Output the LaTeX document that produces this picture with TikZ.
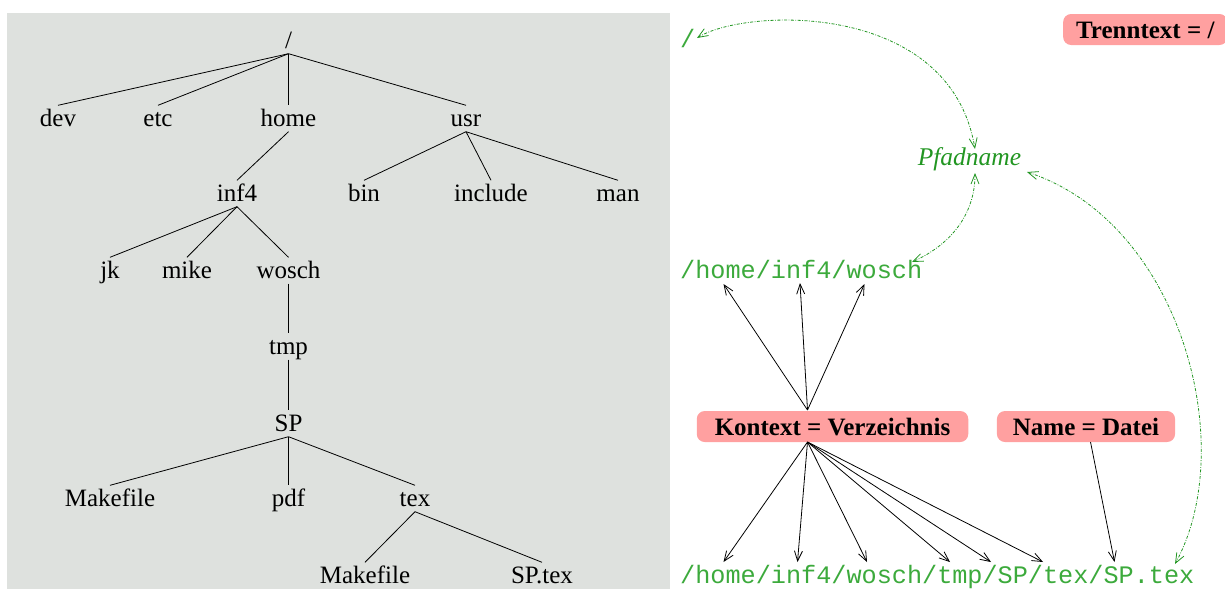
\documentclass[tikz,border=0pt]{standalone}
\usepackage{fontspec}
\setmainfont{Liberation Serif}
\setmonofont{Liberation Mono}
\usetikzlibrary{arrows.meta,calc}
\definecolor{bggray}{RGB}{222,225,222}
\definecolor{boxpink}{RGB}{255,160,160}
\definecolor{pathgreen}{RGB}{34,150,34}
\definecolor{monogreen}{RGB}{60,170,60}
\begin{document}
\begin{tikzpicture}[x=1pt,y=-1pt,
  tn/.style={anchor=base, font=\fontsize{25}{30}\selectfont, text height=17.5pt, text depth=2.5pt, inner sep=3pt},
  tedge/.style={draw=black, line width=0.8pt},
  pbox/.style={anchor=base, fill=boxpink, rounded corners=8pt, font=\fontsize{25}{30}\selectfont\bfseries, text height=17pt, text depth=0pt, inner ysep=7pt},
  mono/.style={anchor=base west, inner sep=0pt, text=monogreen, font=\fontsize{25.2}{30}\selectfont\ttfamily},
  karrow/.style={draw=black, line width=0.8pt, -{Straight Barb[length=10pt,width=8pt]}},
  garrow/.style={draw=pathgreen, line width=0.8pt, dash pattern=on 3pt off 1.5pt on 0.8pt off 1.5pt,
     {Straight Barb[length=10pt,width=8pt]}-{Straight Barb[length=10pt,width=8pt]}}
]
\useasboundingbox (0,0) rectangle (1225,590);
\fill[bggray] (7,13) rectangle (670,589);

% tree
\node[tn] (root) at (288.5,48) {/};
\node[tn] (dev) at (58,126) {dev};
\node[tn] (etc) at (158,126) {etc};
\node[tn] (home) at (288.5,126) {home};
\node[tn] (usr) at (466,126) {usr};
\node[tn] (inf4) at (237,201) {inf4};
\node[tn] (bin) at (364,201) {bin};
\node[tn] (include) at (491,201) {include};
\node[tn] (man) at (618,201) {man};
\node[tn] (jk) at (110,278) {jk};
\node[tn] (mike) at (187,278) {mike};
\node[tn] (wosch) at (288.5,278) {wosch};
\node[tn] (tmp) at (288.5,354) {tmp};
\node[tn] (SP) at (288.5,431) {SP};
\node[tn] (make1) at (110,506) {Makefile};
\node[tn] (pdf) at (288.5,506) {pdf};
\node[tn] (tex) at (415,506) {tex};
\node[tn] (make2) at (365,583) {Makefile};
\node[tn] (sptex) at (542,583) {SP.tex};

\foreach \p/\c in {root/dev,root/etc,root/home,root/usr,home/inf4,usr/bin,usr/include,usr/man,
  inf4/jk,inf4/mike,inf4/wosch,wosch/tmp,tmp/SP,SP/make1,SP/pdf,SP/tex,tex/make2,tex/sptex}
  \draw[tedge] (\p.south) -- (\c.north);

% right side texts
\node[mono] (slash) at (680,47) {/};
\node[mono] (pmid) at (680,278) {/home/inf4/wosch};
\node[mono] (pbot) at (680,583) {/home/inf4/wosch/tmp/SP/tex/SP.tex};
\node[anchor=base, inner sep=0pt, text=pathgreen, font=\fontsize{25.5}{30}\selectfont\itshape] (pfad) at (969.5,165) {Pfadname};

\node[pbox, inner xsep=13pt] (trenn) at (1145.3,38) {Trenntext = /};
\node[pbox, inner xsep=18pt] (kbox) at (832.5,435) {Kontext = Verzeichnis};
\node[pbox, inner xsep=16pt] (nbox) at (1086,435) {Name = Datei};

% connector coordinates
\coordinate (kt) at (807.5,410);
\coordinate (kb) at (807.5,442);
\coordinate (nb) at (1090.5,442);
\coordinate (m1) at (723.5,284);
\coordinate (m2) at (800,283);
\coordinate (m3) at (864.5,284);
\coordinate (b1) at (723.5,562);
\coordinate (b2) at (797.5,562);
\coordinate (b3) at (867,562);
\coordinate (b4) at (950,562);
\coordinate (b5) at (991,562);
\coordinate (b6) at (1043,562);
\coordinate (b7) at (1114.5,562);
\coordinate (slashEnd) at (697,38);
\coordinate (pfT) at (975,149);
\coordinate (pfB) at (975,173);
\coordinate (pfR) at (1027,172);
\coordinate (woschEnd) at (912,262);
\coordinate (sptexEnd) at (1175,564);

\foreach \t in {m1,m2,m3} \draw[karrow] (kt) -- (\t);
\foreach \t in {b1,b2,b3,b4,b5,b6} \draw[karrow] (kb) -- (\t);
\draw[karrow] (nb) -- (b7);

\draw[garrow] (slashEnd) .. controls (745,8) and (950,0) .. (pfT);
\draw[garrow] (pfB) .. controls (975,215) and (950,245) .. (woschEnd);
\draw[garrow] (pfR) .. controls (1180,222) and (1240,445) .. (sptexEnd);
\end{tikzpicture}
\end{document}
